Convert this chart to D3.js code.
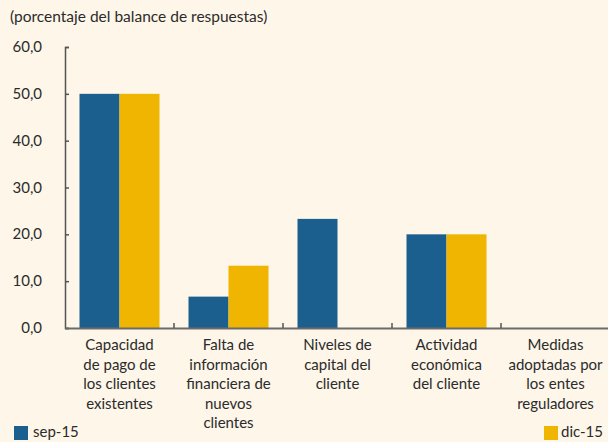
<!DOCTYPE html>
<html>
<head>
<meta charset="utf-8">
<script src="https://cdn.jsdelivr.net/npm/d3@7/dist/d3.min.js"></script>
<style>
  body { margin: 0; background: #fdf6e9; }
  svg { display: block; }
  text { font-family: Lato, "Open Sans", sans-serif; fill: #2b2b2b; }
</style>
</head>
<body>
<div id="chart"></div>
<script>
const categories = [
  ["Capacidad", "de pago de", "los clientes", "existentes"],
  ["Falta de", "información", "financiera de", "nuevos", "clientes"],
  ["Niveles de", "capital del", "cliente"],
  ["Actividad", "económica", "del cliente"],
  ["Medidas", "adoptadas por", "los entes", "reguladores"]
]
const sep15 = [50.0, 6.7, 23.3, 20.0, 0]
const dic15 = [50.0, 13.3, 0, 20.0, 0]
const seriesNames = ["sep-15", "dic-15"]
const yTicks = [0, 10, 20, 30, 40, 50, 60]
const colors = ["#1a5f8e", "#efb500"]

const width = 608
const height = 442
const margin = { top: 47, right: -2, bottom: 114, left: 65 }

const svg = d3.select("#chart")
  .append("svg")
  .attr("width", width)
  .attr("height", height)

svg.append("rect").attr("width", width).attr("height", height).attr("fill", "#fdf6e9")

const x = d3.scaleBand()
  .domain(d3.range(categories.length))
  .range([margin.left, width - margin.right])

const xInner = d3.scaleBand()
  .domain(d3.range(seriesNames.length))
  .range([0, 80])

const y = d3.scaleLinear()
  .domain([0, 60])
  .range([height - margin.bottom, margin.top])

svg.append("text")
  .attr("x", 10)
  .attr("y", 22)
  .style("font-size", "15.5px")
  .text("(porcentaje del balance de respuestas)")

const data = categories.map((c, i) => [sep15[i], dic15[i]])

svg.append("g")
  .selectAll("g")
  .data(data)
  .join("g")
  .attr("transform", (d, i) => `translate(${x(i) + (x.bandwidth() - 80) / 2},0)`)
  .selectAll("rect")
  .data(d => d)
  .join("rect")
  .attr("x", (d, j) => xInner(j))
  .attr("y", d => y(d))
  .attr("width", xInner.bandwidth())
  .attr("height", d => y(0) - y(d))
  .attr("fill", (d, j) => colors[j])

// y axis
const yAxis = svg.append("g")
  .attr("transform", `translate(${margin.left},0)`)
  .call(d3.axisRight(y).tickValues(yTicks).tickSize(4).tickFormat(""))
yAxis.select(".domain").attr("stroke", "#555").attr("stroke-width", 1.5)
yAxis.selectAll(".tick line").attr("stroke", "#555").attr("stroke-width", 1.5)

svg.append("g")
  .selectAll("text")
  .data(yTicks)
  .join("text")
  .attr("x", 42)
  .attr("y", d => y(d) + 5)
  .attr("text-anchor", "end")
  .style("font-size", "15px")
  .text(d => d3.format(".1f")(d).replace(".", ","))

// x axis
const xAxis = svg.append("g")
  .attr("transform", `translate(0,${y(0)})`)
  .call(d3.axisBottom(x).tickSize(0).tickFormat(""))
xAxis.select(".domain").attr("stroke", "#6b6b6b").attr("stroke-width", 2)

svg.append("g")
  .selectAll("line")
  .data(d3.range(1, categories.length))
  .join("line")
  .attr("x1", i => x(i))
  .attr("x2", i => x(i))
  .attr("y1", y(0))
  .attr("y2", y(0) - 5)
  .attr("stroke", "#555")
  .attr("stroke-width", 1.5)

const labels = svg.append("g")
  .selectAll("text")
  .data(categories)
  .join("text")
  .attr("x", (d, i) => x(i) + x.bandwidth() / 2)
  .attr("y", y(0) + 22)
  .attr("text-anchor", "middle")
  .style("font-size", "15px")

labels.selectAll("tspan")
  .data(d => d)
  .join("tspan")
  .attr("x", function () { return this.parentNode.getAttribute("x") })
  .attr("dy", (d, i) => i === 0 ? 0 : 19.5)
  .text(d => d)

// legend
const legendPos = [{ x: 14, tx: 33 }, { x: 544, tx: 561 }]
const legend = svg.append("g")
  .selectAll("g")
  .data(seriesNames)
  .join("g")
legend.append("rect")
  .attr("x", (d, i) => legendPos[i].x)
  .attr("y", 426)
  .attr("width", 14)
  .attr("height", 14)
  .attr("fill", (d, i) => colors[i])
legend.append("text")
  .attr("x", (d, i) => legendPos[i].tx)
  .attr("y", 437)
  .style("font-size", "15px")
  .text(d => d)
</script>
</body>
</html>
